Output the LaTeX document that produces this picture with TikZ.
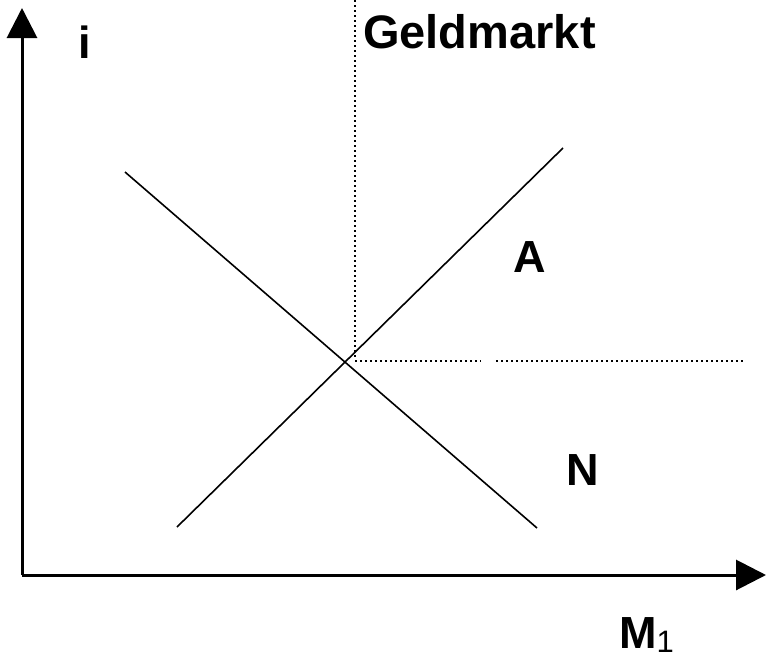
\documentclass[tikz,border=0pt]{standalone}
\usepackage{fontspec}
\setmainfont{Liberation Sans}
\usetikzlibrary{arrows.meta}
\begin{document}
\begin{tikzpicture}[x=1pt,y=-1pt,
  axis/.style={line width=3pt,-{Triangle[length=30pt,width=30pt]}},
  curve/.style={line width=1.6pt},
  guide/.style={line width=2.2pt,dash pattern=on 2.2pt off 2.8pt},
  lbl/.style={font=\fontsize{45}{45}\selectfont\bfseries,inner sep=0pt}]
\useasboundingbox (0,0) rectangle (766,659);
% axes
\coordinate (O) at (22,575);
\coordinate (Ytop) at (22,8);
\coordinate (Xend) at (766,575);
\draw[axis] (O) -- (Ytop);
\draw[axis] (O) -- (Xend);
% curves
\coordinate (N1) at (125,172);
\coordinate (N2) at (537,528);
\coordinate (A1) at (177,527);
\coordinate (A2) at (563,148);
\draw[curve] (N1) -- (N2);
\draw[curve] (A1) -- (A2);
% guides
\coordinate (Vtop) at (355,0);
\coordinate (Vbot) at (355,358);
\coordinate (H1) at (355,361);
\coordinate (H2) at (481,361);
\coordinate (H3) at (496,361);
\coordinate (H4) at (744,361);
\draw[guide] (Vtop) -- (Vbot);
\draw[guide] (H1) -- (H2);
\draw[guide] (H3) -- (H4);
% labels
\node[lbl,anchor=base] (li) at (85,58) {i};
\node[lbl,anchor=base west,font=\fontsize{47}{47}\selectfont\bfseries] (lg) at (363,48) {Geldmarkt};
\node[lbl,anchor=base] (la) at (530,272) {A};
\node[lbl,anchor=base] (ln) at (583,485) {N};
\node[lbl,anchor=base west] (lm) at (619,648) {M\raisebox{-4pt}{\fontsize{31}{31}\selectfont\mdseries 1}};
\end{tikzpicture}
\end{document}
